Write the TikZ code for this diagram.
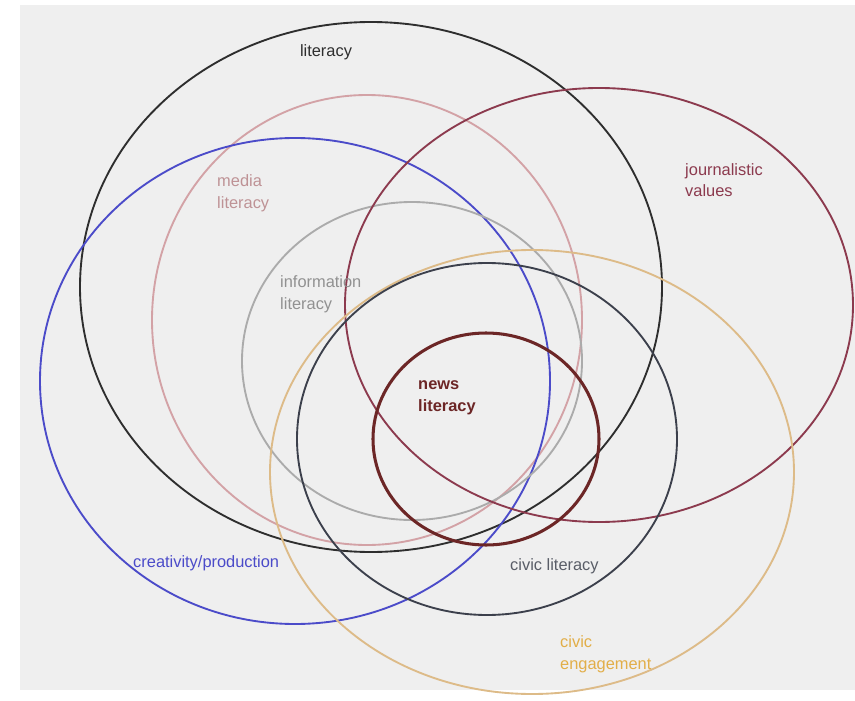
\documentclass[tikz,border=0pt]{standalone}
\usepackage{fontspec}
\setmainfont{Liberation Sans}
\usepackage{tikz}

\definecolor{litcol}{HTML}{2E2E2E}
\definecolor{medcol}{HTML}{D3A2A6}
\definecolor{blucol}{HTML}{4B4BC9}
\definecolor{infcol}{HTML}{ABABAB}
\definecolor{jourcol}{HTML}{8C3A4E}
\definecolor{civcol}{HTML}{3C404C}
\definecolor{engcol}{HTML}{DDBB88}
\definecolor{engtxt}{HTML}{E2AE48}
\definecolor{newscol}{HTML}{6C2626}
\definecolor{bgcol}{HTML}{EFEFEF}

\begin{document}
\begin{tikzpicture}[x=0.03cm, y=-0.03cm,
    ring/.style={line width=1.6pt},
    lbl/.style={font=\fontsize{14}{18.5}\selectfont, align=left, inner sep=0pt}]
  % page and grey card
  \fill[white] (0,0) rectangle (855,701);
  \fill[bgcol] (20,5) rectangle (855,690);
  % the rings
  \draw[ring, litcol] (371,287) ellipse [x radius=291, y radius=265];
  \draw[ring, medcol] (367,320) ellipse [x radius=215, y radius=225];
  \draw[ring, blucol] (295,381) ellipse [x radius=255, y radius=243];
  \draw[ring, infcol] (412,361) ellipse [x radius=170, y radius=159];
  \draw[ring, jourcol] (599,305) ellipse [x radius=254, y radius=217];
  \draw[ring, engcol] (532,472) ellipse [x radius=262, y radius=222];
  \draw[ring, civcol] (487,439) ellipse [x radius=190, y radius=176];
  \draw[line width=2.6pt, newscol] (486,439) ellipse [x radius=113, y radius=106];
  % labels
  \node[lbl, text=litcol] (lit) at (326,52) {literacy};
  \node[lbl, text=medcol!90!black, anchor=west] (med) at (217,193) {media\\literacy};
  \node[lbl, text=infcol!85!black, anchor=west] (inf) at (280,294) {information\\literacy};
  \node[lbl, text=newscol, anchor=west, font=\fontsize{14}{18.5}\selectfont\bfseries] (news) at (418,398) {news\\literacy};
  \node[lbl, text=jourcol, anchor=west] (jour) at (685,180) {journalistic\\values};
  \node[lbl, text=blucol, anchor=west] (crea) at (133,563) {creativity/production};
  \node[lbl, text=civcol!85, anchor=west] (civ) at (510,566) {civic literacy};
  \node[lbl, text=engtxt, anchor=west] (eng) at (560,654) {civic\\engagement};
\end{tikzpicture}
\end{document}
